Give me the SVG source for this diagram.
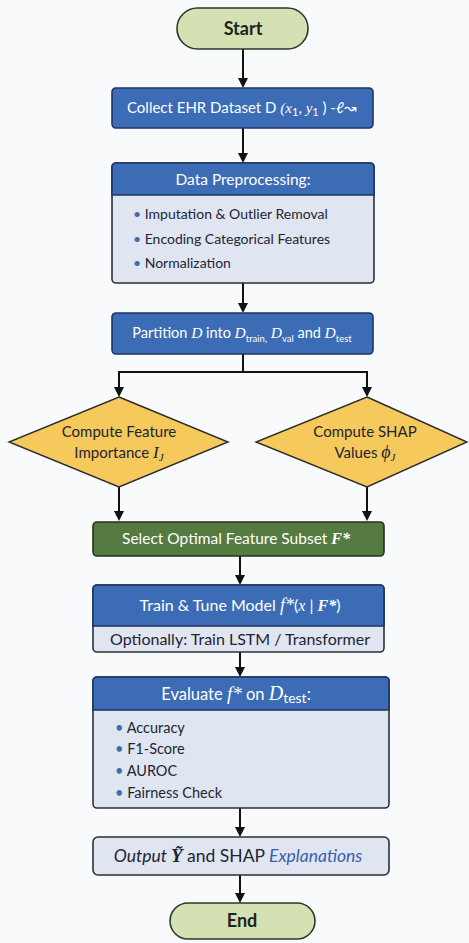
<svg xmlns="http://www.w3.org/2000/svg" width="469" height="943" viewBox="0 0 469 943">
<style>
.t{font-family:Lato,"Open Sans","Liberation Sans",sans-serif}
.w{fill:#ffffff}
.d{fill:#1e2530}
.term{fill:#d4e1b2;stroke:#2d3a2b;stroke-width:1.6}
.blue{fill:#3b6cb5;stroke:#1e3560;stroke-width:1.6}
.body{fill:#dfe5f1;stroke:#2a2f3a;stroke-width:1.6}
.dia{fill:#f5c95c;stroke:#2b2b2b;stroke-width:1.4}
.green{fill:#557b40;stroke:#26331f;stroke-width:1.6}
.ln{fill:none;stroke:#111;stroke-width:2}
.it{font-style:italic;font-family:"Liberation Serif",serif}
.bul{fill:#3b6cb5}
</style>
<defs>
<marker id="ah" markerWidth="10" markerHeight="10" refX="8" refY="5" orient="auto" markerUnits="userSpaceOnUse">
<path d="M0,0 L10,5 L0,10 Z" fill="#111"/>
</marker>
</defs>
<rect width="469" height="943" fill="#f9fafb"/>
<g id="connectors">
<line class="ln" x1="243" y1="49" x2="243" y2="86" marker-end="url(#ah)"/>
<line class="ln" x1="243" y1="128" x2="243" y2="161" marker-end="url(#ah)"/>
<line class="ln" x1="243" y1="283" x2="243" y2="311" marker-end="url(#ah)"/>
<polyline class="ln" points="243,354 243,372 119,372 119,395" marker-end="url(#ah)"/>
<polyline class="ln" points="243,372 367,372 367,395" marker-end="url(#ah)"/>
<line class="ln" x1="119" y1="487" x2="119" y2="519" marker-end="url(#ah)"/>
<line class="ln" x1="367" y1="487" x2="367" y2="519" marker-end="url(#ah)"/>
<line class="ln" x1="240" y1="556" x2="240" y2="583" marker-end="url(#ah)"/>
<line class="ln" x1="240" y1="652" x2="240" y2="675" marker-end="url(#ah)"/>
<line class="ln" x1="240" y1="808" x2="240" y2="835" marker-end="url(#ah)"/>
<line class="ln" x1="240" y1="875" x2="240" y2="901" marker-end="url(#ah)"/>
</g>
<g id="start">
<rect class="term" x="177" y="8" width="131" height="41" rx="20.5"/>
<text class="t" x="243" y="35" text-anchor="middle" font-size="18" font-weight="bold" fill="#1e2520">Start</text>
</g>
<g id="collect">
<rect class="blue" x="112" y="88" width="261" height="40" rx="4"/>
<text class="t w" x="242" y="113" text-anchor="middle" font-size="15">Collect EHR Dataset D <tspan class="it">(x</tspan><tspan font-size="11" dy="3">1</tspan><tspan dy="-3">, </tspan><tspan class="it">y</tspan><tspan font-size="11" dy="3">1</tspan><tspan dy="-3"> ) -ℓ↝</tspan></text>
</g>
<g id="preprocess">
<path class="body" d="M116,163 H370 a4,4 0 0 1 4,4 V279 a4,4 0 0 1 -4,4 H116 a4,4 0 0 1 -4,-4 V167 a4,4 0 0 1 4,-4 Z"/>
<path class="blue" d="M116,163 H370 a4,4 0 0 1 4,4 V195 H112 V167 a4,4 0 0 1 4,-4 Z"/>
<text class="t w" x="243" y="185" text-anchor="middle" font-size="15.5">Data Preprocessing:</text>
<text class="t d" x="133" y="219" font-size="14"><tspan class="bul">•</tspan> Imputation &amp; Outlier Removal</text>
<text class="t d" x="133" y="244" font-size="14"><tspan class="bul">•</tspan> Encoding Categorical Features</text>
<text class="t d" x="133" y="268" font-size="14"><tspan class="bul">•</tspan> Normalization</text>
</g>
<g id="partition">
<rect class="blue" x="112" y="313" width="261" height="41" rx="4"/>
<text class="t w" x="242" y="338" text-anchor="middle" font-size="14.5">Partition <tspan class="it" font-size="15.5">D</tspan> into <tspan class="it" font-size="15.5">D</tspan><tspan font-size="9.5" dy="4">train,</tspan><tspan dy="-4"> </tspan><tspan class="it" font-size="15.5">D</tspan><tspan font-size="9.5" dy="4">val</tspan><tspan dy="-4"> and </tspan><tspan class="it" font-size="15.5">D</tspan><tspan font-size="9.5" dy="4">test</tspan></text>
</g>
<g id="importance">
<polygon class="dia" points="119,397 228,442 119,487 9,442"/>
<text class="t d" x="119" y="437" text-anchor="middle" font-size="15">Compute Feature</text>
<text class="t d" x="119" y="458" text-anchor="middle" font-size="15">Importance <tspan class="it" font-size="17">I</tspan><tspan class="it" font-size="11" dy="3">J</tspan></text>
</g>
<g id="shap">
<polygon class="dia" points="367,397 467,442 367,487 256,442"/>
<text class="t d" x="365" y="437" text-anchor="middle" font-size="15">Compute SHAP</text>
<text class="t d" x="365" y="458" text-anchor="middle" font-size="15">Values <tspan class="it" font-size="18">ϕ</tspan><tspan class="it" font-size="11" dy="3">J</tspan></text>
</g>
<g id="select">
<rect class="green" x="93" y="522" width="291" height="34" rx="4"/>
<text class="t w" x="236" y="544" text-anchor="middle" font-size="15.5">Select Optimal Feature Subset <tspan class="it" font-weight="bold" font-size="16">F*</tspan></text>
</g>
<g id="train">
<path class="body" d="M97,585 H380 a4,4 0 0 1 4,4 V648 a4,4 0 0 1 -4,4 H97 a4,4 0 0 1 -4,-4 V589 a4,4 0 0 1 4,-4 Z"/>
<path class="blue" d="M97,585 H380 a4,4 0 0 1 4,4 V626 H93 V589 a4,4 0 0 1 4,-4 Z"/>
<text class="t w" x="240" y="611" text-anchor="middle" font-size="16">Train &amp; Tune Model <tspan class="it" font-size="18">f*</tspan>(<tspan class="it">x</tspan> | <tspan class="it" font-weight="bold">F*</tspan>)</text>
<text class="t d" x="240" y="645" text-anchor="middle" font-size="16">Optionally: Train LSTM / Transformer</text>
</g>
<g id="evaluate">
<path class="body" d="M97,677 H385 a4,4 0 0 1 4,4 V804 a4,4 0 0 1 -4,4 H97 a4,4 0 0 1 -4,-4 V681 a4,4 0 0 1 4,-4 Z"/>
<path class="blue" d="M97,677 H385 a4,4 0 0 1 4,4 V710 H93 V681 a4,4 0 0 1 4,-4 Z"/>
<text class="t w" x="236" y="700" text-anchor="middle" font-size="16.5">Evaluate <tspan class="it" font-size="19">f*</tspan> on <tspan class="it" font-size="20">D</tspan><tspan font-size="14" dy="3">test</tspan><tspan dy="-3">:</tspan></text>
<text class="t d" x="115" y="733" font-size="14.5"><tspan class="bul">•</tspan> Accuracy</text>
<text class="t d" x="115" y="754" font-size="14.5"><tspan class="bul">•</tspan> F1-Score</text>
<text class="t d" x="115" y="776" font-size="14.5"><tspan class="bul">•</tspan> AUROC</text>
<text class="t d" x="115" y="798" font-size="14.5"><tspan class="bul">•</tspan> Fairness Check</text>
</g>
<g id="output">
<rect class="body" x="93" y="837" width="296" height="38" rx="5"/>
<text class="t d" x="238" y="862" text-anchor="middle" font-size="17.5"><tspan font-style="italic">Output </tspan><tspan class="it" font-weight="bold" font-size="19">Ỹ</tspan> and SHAP <tspan font-style="italic" fill="#3b5fa8">Explanations</tspan></text>
</g>
<g id="end">
<rect class="term" x="170" y="903" width="145" height="36" rx="18"/>
<text class="t" x="242" y="927" text-anchor="middle" font-size="18" font-weight="bold" fill="#1e2520">End</text>
</g>
</svg>
